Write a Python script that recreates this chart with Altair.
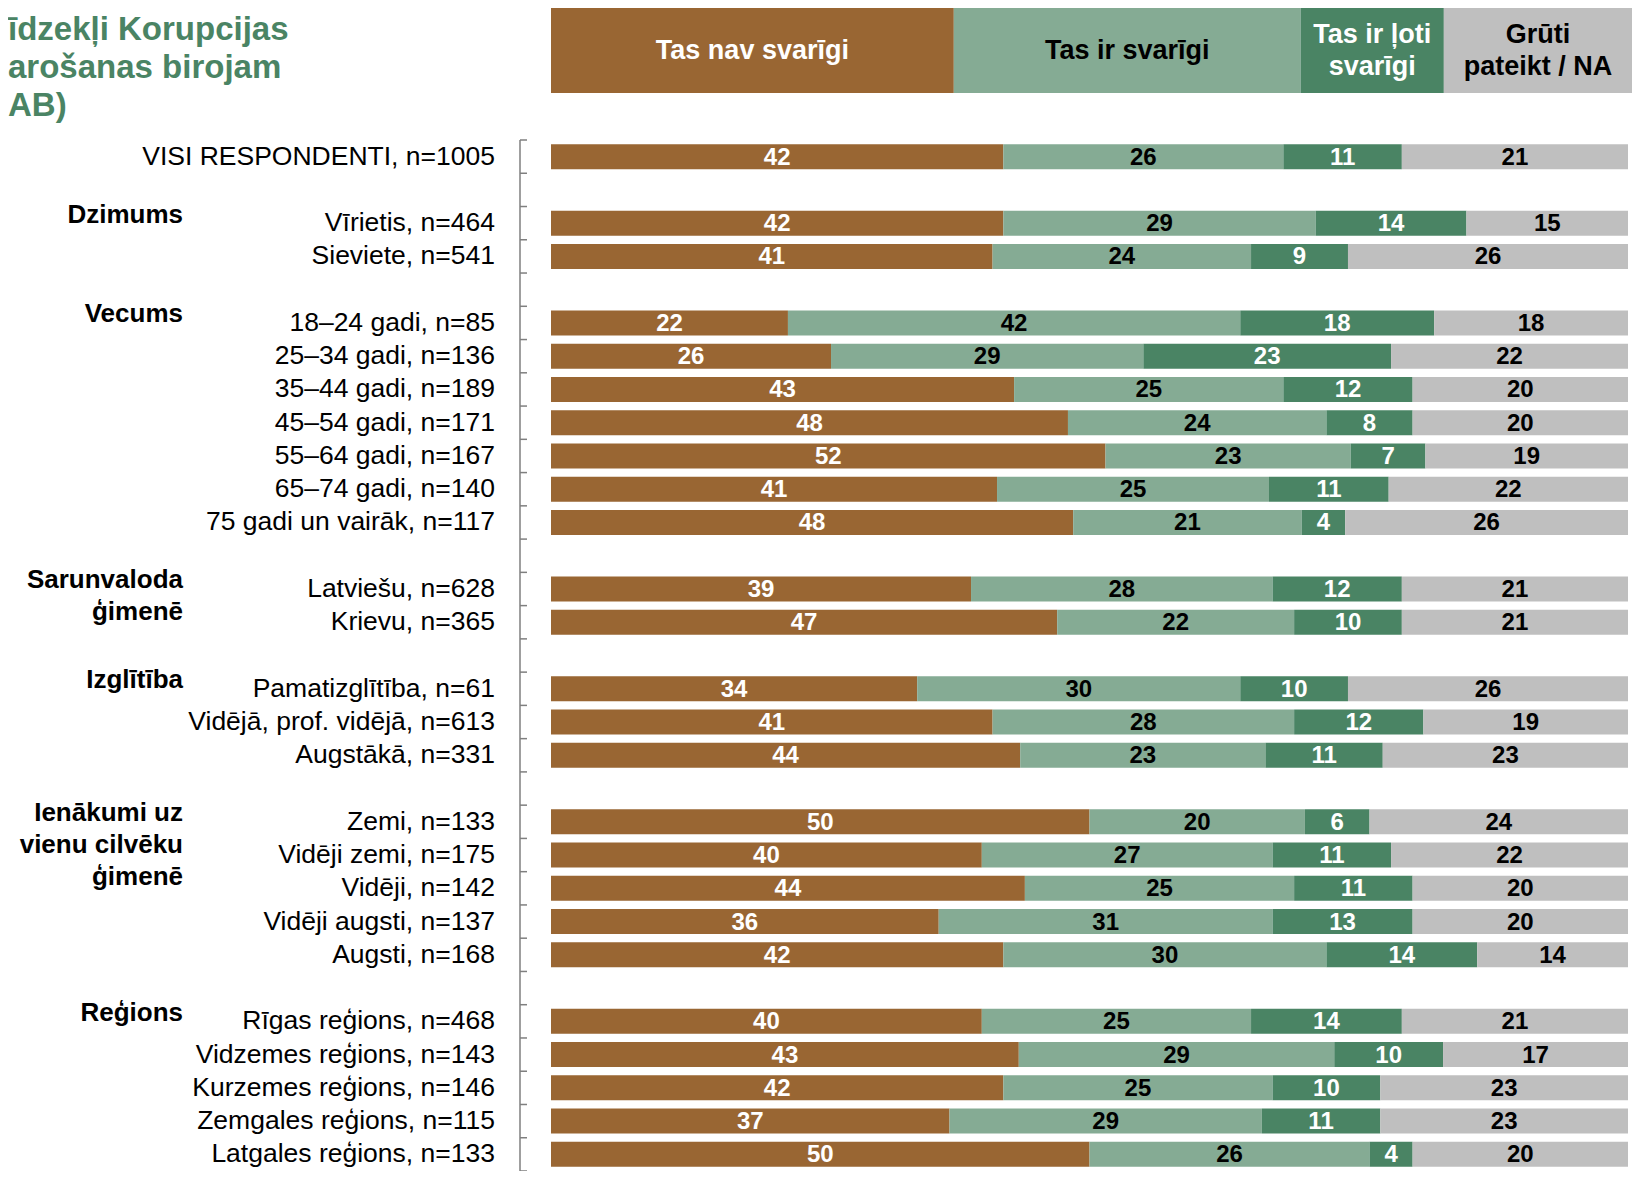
import altair as alt
import pandas as pd

# ---------------- data ----------------
TITLE_LINES = ["īdzekļi Korupcijas", "arošanas birojam", "AB)"]

CATEGORIES = ["Tas nav svarīgi", "Tas ir svarīgi", "Tas ir ļoti svarīgi", "Grūti pateikt / NA"]
HEADER_TEXT = ["Tas nav svarīgi", "Tas ir svarīgi", "Tas ir ļoti\nsvarīgi", "Grūti\npateikt / NA"]
HEADER_SHARE = [37.4, 32.2, 13.3, 17.5]  # header box widths, % of bar width (layout)
BAR_COLORS = ["#996633", "#85ab94", "#4a8464", "#bfbfbf"]
LABEL_COLORS = ["#ffffff", "#000000", "#ffffff", "#000000"]

GROUP_NAMES = ["", "Dzimums", "Vecums", "Sarunvaloda\nģimenē", "Izglītība",
               "Ienākumi uz\nvienu cilvēku\nģimenē", "Reģions"]
GROUP_ROWS = [
    ["VISI RESPONDENTI, n=1005"],
    ["Vīrietis, n=464", "Sieviete, n=541"],
    ["18–24 gadi, n=85", "25–34 gadi, n=136", "35–44 gadi, n=189", "45–54 gadi, n=171",
     "55–64 gadi, n=167", "65–74 gadi, n=140", "75 gadi un vairāk, n=117"],
    ["Latviešu, n=628", "Krievu, n=365"],
    ["Pamatizglītība, n=61", "Vidējā, prof. vidējā, n=613", "Augstākā, n=331"],
    ["Zemi, n=133", "Vidēji zemi, n=175", "Vidēji, n=142", "Vidēji augsti, n=137", "Augsti, n=168"],
    ["Rīgas reģions, n=468", "Vidzemes reģions, n=143", "Kurzemes reģions, n=146",
     "Zemgales reģions, n=115", "Latgales reģions, n=133"],
]

NAV_SVARIGI = [42, 42, 41, 22, 26, 43, 48, 52, 41, 48, 39, 47, 34, 41, 44, 50, 40, 44, 36, 42, 40, 43, 42, 37, 50]
IR_SVARIGI = [26, 29, 24, 42, 29, 25, 24, 23, 25, 21, 28, 22, 30, 28, 23, 20, 27, 25, 31, 30, 25, 29, 25, 29, 26]
LOTI_SVARIGI = [11, 14, 9, 18, 23, 12, 8, 7, 11, 4, 12, 10, 10, 12, 11, 6, 11, 11, 13, 14, 14, 10, 10, 11, 4]
GRUTI = [21, 15, 26, 18, 22, 20, 20, 19, 22, 26, 21, 21, 26, 19, 23, 24, 22, 20, 20, 14, 21, 17, 23, 23, 20]

# ---------------- layout ----------------
PLOT_W = 1077
PLOT_H = 1031
PAD = {"left": 543, "top": 132, "right": 4, "bottom": 0}

# ---------------- tables ----------------
SERIES = [NAV_SVARIGI, IR_SVARIGI, LOTI_SVARIGI, GRUTI]

slot_keys = []
row_labels = []
group_rows = []
for gi, (gname, rows) in enumerate(zip(GROUP_NAMES, GROUP_ROWS)):
    if gi > 0:
        slot_keys.append(f"__gap{gi}")
    for r in rows:
        slot_keys.append(r)
        row_labels.append(r)
    if gname:
        group_rows.append({"key": rows[0], "name": gname})

long_rows = []
for ri, lab in enumerate(row_labels):
    for ci, cat in enumerate(CATEGORIES):
        long_rows.append({"key": lab, "cat": cat, "ci": ci, "value": SERIES[ci][ri],
                          "tcolor": LABEL_COLORS[ci]})
long_df = pd.DataFrame(long_rows)
labels_df = pd.DataFrame({"key": row_labels})
groups_df = pd.DataFrame(group_rows)
ticks_df = pd.DataFrame({"key": slot_keys})
ticks_end_df = pd.DataFrame({"key": slot_keys[-1:]})

share = pd.Series(HEADER_SHARE) / 100.0
hx1 = share.cumsum()
hx0 = hx1 - share
header_df = pd.DataFrame({"cat": CATEGORIES, "text": HEADER_TEXT, "hx0": hx0, "hx1": hx1,
                          "hmid": (hx0 + hx1) / 2, "tcolor": LABEL_COLORS,
                          "nlines": [t.count("\n") + 1 for t in HEADER_TEXT]})
title_df = pd.DataFrame({"text": ["\n".join(TITLE_LINES)]})

# ---------------- scales ----------------
yscale = alt.Scale(domain=slot_keys, paddingInner=0, paddingOuter=0)
xscale = alt.Scale(domain=[0, 1], nice=False, zero=False)
cscale = alt.Scale(domain=CATEGORIES, range=BAR_COLORS)
AX_COLOR = "#7f7f7f"

base = alt.Chart(long_df).transform_stack(
    stack="value", as_=["x0", "x1"], groupby=["key"],
    sort=[alt.SortField("ci", order="ascending")], offset="normalize"
).transform_calculate(mid="(datum.x0 + datum.x1) / 2")

bars = base.mark_bar(height=25).encode(
    y=alt.Y("key:N", scale=yscale, axis=None),
    x=alt.X("x0:Q", scale=xscale, axis=None),
    x2="x1:Q",
    color=alt.Color("cat:N", scale=cscale, legend=None),
)

values = base.mark_text(fontSize=24, fontWeight="bold", baseline="middle", align="center", dy=1).encode(
    y=alt.Y("key:N", scale=yscale, axis=None),
    x=alt.X("mid:Q", scale=xscale, axis=None),
    text=alt.Text("value:Q"),
    color=alt.Color("tcolor:N", scale=None),
)

row_text = alt.Chart(labels_df).mark_text(fontSize=26.5, align="right", baseline="middle", color="#000000").encode(
    y=alt.Y("key:N", scale=yscale, axis=None),
    x=alt.value(-56),
    text="key:N",
)

group_text = alt.Chart(groups_df).mark_text(
    fontSize=26, fontWeight="bold", align="right", baseline="top", lineBreak="\n",
    lineHeight=32, dy=-5, color="#000000"
).encode(
    y=alt.Y("key:N", scale=yscale, axis=None, bandPosition=0),
    x=alt.value(-368),
    text="name:N",
)

axis_line = alt.Chart(ticks_end_df).mark_rule(color=AX_COLOR, strokeWidth=1.5).encode(
    x=alt.value(-31), y=alt.value(0), y2=alt.value(PLOT_H),
)
ticks = alt.Chart(ticks_df).mark_rule(color=AX_COLOR, strokeWidth=1.5).encode(
    y=alt.Y("key:N", scale=yscale, axis=None, bandPosition=0),
    x=alt.value(-31), x2=alt.value(-24),
)
ticks_end = alt.Chart(ticks_end_df).mark_rule(color=AX_COLOR, strokeWidth=1.5).encode(
    y=alt.Y("key:N", scale=yscale, axis=None, bandPosition=1),
    x=alt.value(-31), x2=alt.value(-24),
)

header = alt.Chart(header_df).mark_rect().encode(
    x=alt.X("hx0:Q", scale=xscale, axis=None), x2="hx1:Q",
    y=alt.value(-132), y2=alt.value(-47),
    color=alt.Color("cat:N", scale=cscale, legend=None),
)
header_text1 = alt.Chart(header_df).transform_filter("datum.nlines == 1").mark_text(
    fontSize=27, fontWeight="bold", align="center", baseline="middle"
).encode(
    x=alt.X("hmid:Q", scale=xscale, axis=None),
    y=alt.value(-89),
    text="text:N",
    color=alt.Color("tcolor:N", scale=None),
)
header_text2 = alt.Chart(header_df).transform_filter("datum.nlines == 2").mark_text(
    fontSize=27, fontWeight="bold", align="center", baseline="middle", lineBreak="\n", lineHeight=32
).encode(
    x=alt.X("hmid:Q", scale=xscale, axis=None),
    y=alt.value(-105),
    text="text:N",
    color=alt.Color("tcolor:N", scale=None),
)

title = alt.Chart(title_df).mark_text(
    fontSize=33, fontWeight="bold", align="left", baseline="middle", lineBreak="\n",
    lineHeight=38, color="#4a8464"
).encode(
    x=alt.value(-543), y=alt.value(-110), text="text:N",
)

chart = alt.layer(
    bars, values, row_text, group_text, axis_line, ticks, ticks_end,
    header, header_text1, header_text2, title
).properties(
    width=PLOT_W, height=PLOT_H,
    autosize=alt.AutoSizeParams(type="none"),
    padding=PAD,
).configure(font="Liberation Sans").configure_view(stroke=None)

chart.save("out.html", embed_options={"renderer": "svg", "actions": False})
